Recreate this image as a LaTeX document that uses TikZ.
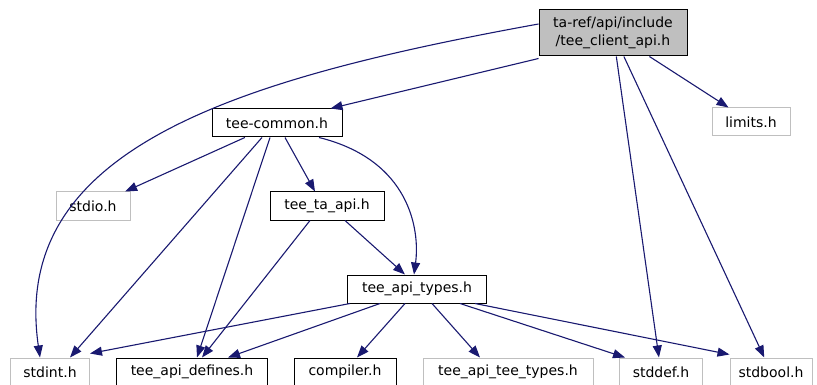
\documentclass[tikz,border=0pt]{standalone}
\usepackage{fontspec}
\setmainfont{DejaVu Sans}
\usepackage{xcolor}
\usetikzlibrary{arrows.meta}
\definecolor{edgeblue}{HTML}{191970}
\definecolor{sysgray}{HTML}{BFBFBF}
\tikzset{
  hdr/.style={draw=black, line width=1pt, minimum height=28pt, inner sep=0pt,
    font=\fontsize{14}{17.5}\selectfont, align=center},
  syshdr/.style={hdr, draw=sysgray},
  inc/.style={edgeblue, line width=1.1pt, -{Triangle[length=12pt,width=9pt]}}
}
\begin{document}
\begin{tikzpicture}[x=1pt,y=-1pt]
\useasboundingbox (0,0) rectangle (817,385);
% top level
\node[hdr, fill=sysgray, minimum width=148pt, minimum height=46pt] (root) at (613,33) {ta-ref/api/include\\/tee\_client\_api.h};
\node[syshdr, minimum width=78pt] (limits) at (751,122) {limits.h};
\node[hdr, minimum width=130pt] (common) at (277,123) {tee-common.h};
% middle
\node[syshdr, minimum width=74pt] (stdio) at (93,206) {stdio.h};
\node[hdr, minimum width=114pt] (taapi) at (327,206) {tee\_ta\_api.h};
\node[hdr, minimum width=139pt] (types) at (417,289) {tee\_api\_types.h};
% bottom row
\node[syshdr, minimum width=79pt] (stdint) at (50,372) {stdint.h};
\node[hdr, minimum width=151pt] (defines) at (192,372) {tee\_api\_defines.h};
\node[hdr, minimum width=102pt] (compiler) at (345,372) {compiler.h};
\node[syshdr, minimum width=170pt] (teetypes) at (508,372) {tee\_api\_tee\_types.h};
\node[syshdr, minimum width=83pt] (stddef) at (661,372) {stddef.h};
\node[syshdr, minimum width=82pt] (stdbool) at (771,372) {stdbool.h};

% from tee_client_api.h
\draw[inc] ([yshift=9pt]root.west) .. controls (230,80) and (10,150) .. ([xshift=-10pt]stdint.north);
\draw[inc] ([yshift=-2pt]root.south west) -- ([xshift=-12pt]common.north east);
\draw[inc] (root) -- (stddef);
\draw[inc] (root) -- (stdbool);
\draw[inc] (root) -- (limits);
% from tee-common.h
\draw[inc] (common) -- (stdio);
\draw[inc] ([xshift=-15pt]common.south) -- ([xshift=20pt]stdint.north);
\draw[inc] ([xshift=-7pt]common.south) -- ([xshift=5pt]defines.north);
\draw[inc] ([xshift=8pt]common.south) -- ([xshift=-12pt]taapi.north);
\draw[inc] ([xshift=42pt]common.south) .. controls (410,160) and (420,230) .. ([xshift=-3pt]types.north);
% from tee_ta_api.h
\draw[inc] ([xshift=-17pt]taapi.south) -- ([xshift=10pt]defines.north);
\draw[inc] ([xshift=18pt]taapi.south) -- ([xshift=-12pt]types.north);
% from tee_api_types.h
\draw[inc] ([xshift=-67pt]types.south) -- ([yshift=4pt]stdint.north east);
\draw[inc] ([xshift=-37pt]types.south) -- ([xshift=36pt]defines.north);
\draw[inc] ([xshift=-12pt]types.south) -- ([xshift=12pt]compiler.north);
\draw[inc] ([xshift=15pt]types.south) -- ([xshift=-28pt]teetypes.north);
\draw[inc] ([xshift=43pt]types.south) -- ([xshift=-36pt]stddef.north);
\draw[inc] ([xshift=58pt]types.south) -- ([yshift=3pt]stdbool.north west);
\end{tikzpicture}
\end{document}
